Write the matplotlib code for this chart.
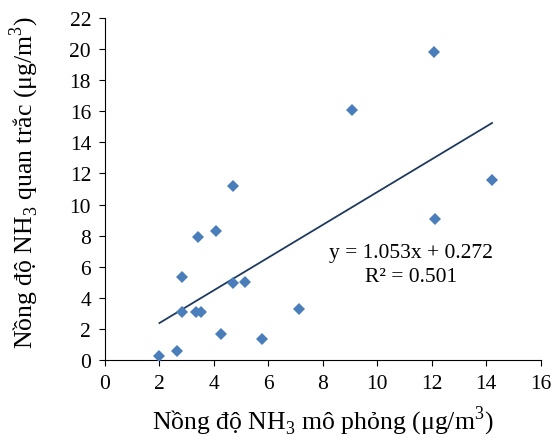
import numpy as np
import matplotlib
matplotlib.use("Agg")
import matplotlib.pyplot as plt

# Dữ liệu
x_mo_phong = [2.0, 2.66, 2.84, 2.82, 3.33, 3.53, 3.40, 4.08, 4.28, 4.71,
              4.70, 5.15, 5.76, 7.12, 9.06, 12.09, 12.11, 14.22]
y_quan_trac = [0.24, 0.6, 5.34, 3.07, 3.07, 3.07, 7.89, 8.28, 1.69, 11.17,
               4.93, 5.02, 1.37, 3.26, 16.1, 19.79, 9.07, 11.6]
he_so_a = 1.053
he_so_b = 0.272
r2 = 0.501
x_ticks = list(range(0, 17, 2))
y_ticks = list(range(0, 23, 2))

plt.rcParams['font.family'] = ['Liberation Serif', 'DejaVu Serif']
plt.rcParams['mathtext.fontset'] = 'custom'
plt.rcParams['mathtext.rm'] = 'Liberation Serif'

fig = plt.figure(figsize=(5.53, 4.39), dpi=100)
ax = fig.add_axes([105 / 553, 1 - 361 / 439, 435.5 / 553, 342 / 439])

ax.plot(x_mo_phong, y_quan_trac, linestyle='none', marker='D', markersize=6.3,
        color='#4A7EBB', markeredgewidth=0, zorder=3)

# Đường xu hướng tuyến tính
xl = np.array([min(x_mo_phong), max(x_mo_phong)])
ax.plot(xl, he_so_a * xl + he_so_b, color='#1F3A60', linewidth=1.3, zorder=2)

ax.text(11.25, 6.15, f"y = {he_so_a:.3f}x + {he_so_b:.3f}\nR² = {r2:.3f}",
        ha='center', va='center', fontsize=15.5, linespacing=1.35)

ax.set_xlim(0, 16)
ax.set_ylim(0, 22)
ax.set_xticks(x_ticks)
ax.set_yticks(y_ticks)
ax.tick_params(direction='out', length=4, width=0.8, labelsize=15.5, pad=6)
for s in ['top', 'right']:
    ax.spines[s].set_visible(False)
for s in ['left', 'bottom']:
    ax.spines[s].set_linewidth(0.8)

ax.set_xlabel(r"Nồng độ NH$_\mathrm{3}$ mô phỏng (μg/m$^\mathrm{3}$)", fontsize=18.5, va='center')
ax.set_ylabel(r"Nồng độ NH$_\mathrm{3}$ quan trắc (μg/m$^\mathrm{3}$)", fontsize=18.5)
ax.xaxis.set_label_coords(0.5, -0.177)
ax.yaxis.set_label_coords(-0.147, 0.523)

fig.savefig("out.png", dpi=100)
